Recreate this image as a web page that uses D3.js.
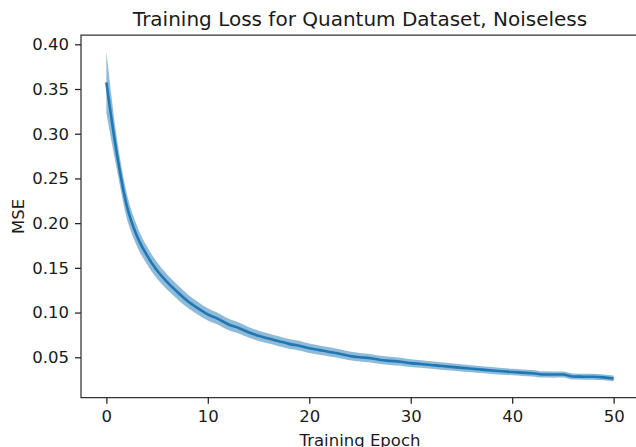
<!DOCTYPE html>
<html lang="en">
<head>
<meta charset="utf-8">
<title>Training Loss for Quantum Dataset, Noiseless</title>
<script src="https://cdn.jsdelivr.net/npm/d3@7"></script>
<style>
  body { margin: 0; background: #fff; }
  text { font-family: "DejaVu Sans", sans-serif; fill: #1a1a1a; }
</style>
</head>
<body>
<script>
// mean MSE per training epoch (0..50)
var epochs = d3.range(0, 51);
var meanLoss = [
  0.3575, 0.280, 0.220, 0.186, 0.164, 0.147, 0.134, 0.123, 0.113, 0.105,
  0.098, 0.093, 0.087, 0.083, 0.078, 0.074, 0.071, 0.068, 0.065, 0.063,
  0.060, 0.058, 0.056, 0.054, 0.0515, 0.050, 0.049, 0.047, 0.046, 0.045,
  0.0435, 0.0425, 0.0413, 0.0403, 0.0393, 0.0382, 0.0372, 0.0362, 0.0352, 0.0343,
  0.0335, 0.0328, 0.0322, 0.0308, 0.0307, 0.0307, 0.0285, 0.0283, 0.0282, 0.0275,
  0.0263
];
// spread (half-width of the shaded band)
var spread = [
  0.0345, 0.018, 0.014, 0.0115, 0.010, 0.0092, 0.0086, 0.0080, 0.0076, 0.0072,
  0.0069, 0.0066, 0.0064, 0.0062, 0.0060, 0.0058, 0.0057, 0.0056, 0.0055, 0.0054,
  0.0053, 0.0052, 0.0051, 0.0050, 0.0049, 0.0048, 0.0047, 0.0046, 0.0045, 0.0045,
  0.0044, 0.0043, 0.0042, 0.0042, 0.0041, 0.0040, 0.0040, 0.0039, 0.0038, 0.0038,
  0.0037, 0.0036, 0.0036, 0.0035, 0.0035, 0.0034, 0.0034, 0.0033, 0.0033, 0.0032,
  0.0032
];
var xTicks = [0, 10, 20, 30, 40, 50];
var yTicks = [0.05, 0.10, 0.15, 0.20, 0.25, 0.30, 0.35, 0.40];

var W = 636, H = 447;
var plotL = 81, plotR = 639, plotT = 35, plotB = 397.7;

var data = epochs.map(function(e, i) { return {e: e, m: meanLoss[i], s: spread[i]}; });

var x = d3.scaleLinear().domain([-2.5, 52.5]).range([plotL, plotR]);
var y = d3.scaleLinear().domain([0.0048, 0.4104]).range([plotB, plotT]);

var svg = d3.select("body").append("svg")
  .attr("width", W).attr("height", H);

var blue = "#1f77b4";

svg.append("path")
  .datum(data)
  .attr("fill", blue)
  .attr("fill-opacity", 0.5)
  .attr("d", d3.area()
    .curve(d3.curveMonotoneX)
    .x(function(d) { return x(d.e); })
    .y0(function(d) { return y(d.m - d.s); })
    .y1(function(d) { return y(d.m + d.s); }));

svg.append("path")
  .datum(data)
  .attr("fill", "none")
  .attr("stroke", blue)
  .attr("stroke-width", 2.6)
  .attr("stroke-linejoin", "round")
  .attr("d", d3.line()
    .curve(d3.curveMonotoneX)
    .x(function(d) { return x(d.e); })
    .y(function(d) { return y(d.m); }));

// axes
var xAxis = svg.append("g")
  .attr("transform", "translate(0," + plotB + ")")
  .call(d3.axisBottom(x).tickValues(xTicks).tickSize(6).tickPadding(7).tickFormat(d3.format("d")));
var yAxis = svg.append("g")
  .attr("transform", "translate(" + plotL + ",0)")
  .call(d3.axisLeft(y).tickValues(yTicks).tickSize(6).tickPadding(6).tickFormat(d3.format(".2f")));

[xAxis, yAxis].forEach(function(g) {
  g.select(".domain").remove();
  g.selectAll("line").attr("stroke", "#222").attr("stroke-width", 1.25);
  g.selectAll("text").style("font-size", "16.5px").attr("fill", "#1a1a1a")
    .style("font-family", "DejaVu Sans, sans-serif");
});

// spines
svg.append("path")
  .attr("d", "M" + plotL + "," + plotT + "V" + plotB + "H" + plotR + "V" + plotT + "Z")
  .attr("fill", "none").attr("stroke", "#333").attr("stroke-width", 1.25);

svg.append("text")
  .attr("x", (plotL + plotR) / 2).attr("y", 26)
  .attr("text-anchor", "middle")
  .style("font-size", "20px")
  .text("Training Loss for Quantum Dataset, Noiseless");

svg.append("text")
  .attr("x", (plotL + plotR) / 2).attr("y", 446)
  .attr("text-anchor", "middle")
  .style("font-size", "16.5px")
  .text("Training Epoch");

svg.append("text")
  .attr("transform", "translate(24," + ((plotT + plotB) / 2) + ") rotate(-90)")
  .attr("text-anchor", "middle")
  .style("font-size", "16.5px")
  .text("MSE");
</script>
</body>
</html>
